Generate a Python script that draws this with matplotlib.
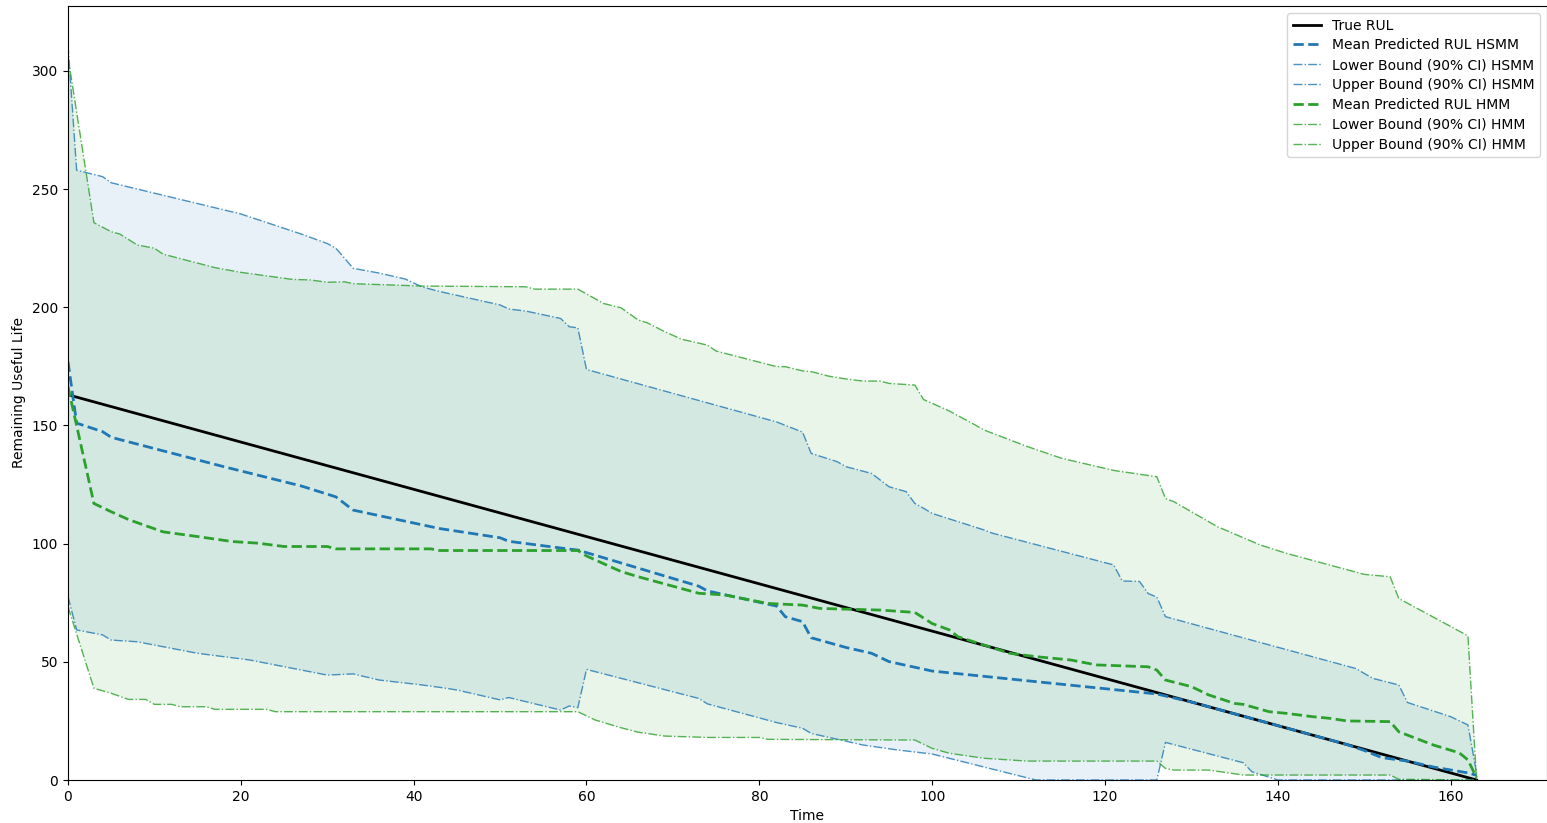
import matplotlib
matplotlib.use('Agg')
import matplotlib.pyplot as plt
import numpy as np

blue = '#1f77b4'
green = '#2ca02c'

# true remaining useful life
t_true = [0, 163]
rul_true = [163, 0]

# HSMM mean / bounds (breakpoints)
t_hsmm_mean = [0, 1, 4, 5, 18, 27, 31, 33, 43, 50, 51, 58, 59, 73, 74, 82, 83, 85, 86, 90, 93, 95, 100,
               126, 130, 135, 140, 145, 148, 150, 152, 155, 158, 162, 163]
hsmm_mean = [177, 151, 147.4, 145, 132.6, 124.4, 119.8, 114.2, 106.4, 102.5, 101, 97.7, 97.3, 82, 80, 73.6,
             69.1, 67, 60.2, 56.1, 53.6, 50.1, 46.1, 36.4, 33, 28, 23, 18, 15, 12.5, 9.5, 8, 5.5, 3, 2]

t_hsmm_up = [0, 1, 4, 5, 20, 27, 30, 31, 33, 36, 39, 41, 43, 50, 51, 53, 57, 58, 59, 60, 82, 85, 86, 89, 90,
             93, 95, 97, 98, 99, 100, 106, 107, 121, 122, 124, 125, 126, 127, 149, 151, 154, 155, 160, 162, 163]
hsmm_up = [311, 258, 255.3, 252.7, 239.5, 231, 227, 225, 216.5, 214.5, 212, 208.6, 206.7, 201, 199.3, 198.4,
           195.3, 191.8, 191.3, 173.7, 151.5, 147.2, 138.2, 134.7, 132.6, 129.7, 124.1, 122, 117, 115, 112.8,
           105.8, 104.4, 91, 84.2, 84, 78.9, 77.4, 69.1, 47.2, 43, 40.2, 32.8, 26.8, 23.3, 3]

t_hsmm_lo = [0, 1, 4, 5, 8, 15, 21, 30, 33, 36, 41, 43, 45, 50, 51, 57, 58, 59, 60, 73, 74, 82, 85, 86, 92,
             96, 100, 112, 126, 127, 136, 137, 140, 163]
hsmm_lo = [77.6, 63.5, 61.4, 59.2, 58.5, 53.6, 50.8, 44.4, 44.9, 42.3, 40.2, 39.2, 38.1, 33.9, 34.9, 29.6,
           31.3, 30.6, 46.8, 34.5, 32.2, 24.3, 21.9, 19.7, 14.8, 12.7, 11, 0, 0, 15.9, 7.3, 3.5, 0, 0]

# HMM mean / bounds
t_hmm_mean = [0, 3, 5, 7, 11, 15, 19, 22, 25, 30, 31, 42, 43, 59, 60, 64, 66, 73, 76, 81, 85, 87, 94, 98,
              100, 102, 103, 109, 112, 116, 119, 125, 126, 127, 130, 132, 135, 136, 139, 141, 144, 146, 148,
              153, 154, 157, 158, 161, 162, 163]
hmm_mean = [166.4, 117, 113.5, 110.2, 105, 103, 100.9, 100.2, 98.8, 98.8, 97.8, 97.8, 97.1, 97.1, 94.8,
            88.2, 86, 79, 78.3, 74.7, 74, 72.6, 71.9, 70.9, 66.2, 63.5, 60.6, 53.6, 52.2, 50.8, 48.7, 47.9,
            46.5, 42.3, 39.5, 36, 32.4, 32, 28.9, 28.2, 26.8, 26.1, 25, 24.7, 20.4, 16.2, 14.8, 11.5, 8.5, 1]

t_hmm_up = [0, 3, 5, 6, 8, 10, 11, 17, 20, 26, 28, 30, 32, 33, 41, 53, 54, 59, 62, 64, 66, 67, 69, 71, 74,
            75, 82, 83, 85, 86, 88, 90, 92, 94, 95, 98, 99, 102, 105, 106, 109, 111, 115, 121, 126, 127, 128,
            133, 138, 141, 150, 153, 154, 162, 163]
hmm_up = [306, 235.8, 232, 231, 226.4, 225, 222.5, 216.8, 214.8, 211.8, 211.6, 210.6, 210.8, 210, 209,
          208.7, 207.7, 207.7, 201.6, 199.8, 194.6, 193.5, 189.8, 186.5, 184, 181.5, 174.9, 174.9, 173.1,
          172.8, 170.9, 169.7, 168.8, 168.8, 167.8, 167.1, 161, 156.1, 150.2, 148.1, 143.9, 141.1, 136.1,
          131, 128.3, 119.1, 117.7, 107.2, 99.4, 95.9, 87, 86, 76.8, 61, 0]

t_hmm_lo = [0, 3, 5, 7, 9, 10, 12, 13, 16, 17, 23, 24, 59, 61, 64, 66, 67, 69, 74, 80, 81, 98, 100, 102,
            106, 111, 126, 127, 128, 132, 136, 153, 154, 163]
hmm_lo = [73.3, 38.8, 36.7, 34.1, 34.1, 32, 32, 31, 31, 29.9, 29.9, 28.9, 28.9, 25.4, 22.1, 20.2, 19.7,
          18.6, 18, 18, 17.2, 16.9, 13.4, 11.3, 9.2, 8, 8, 4.9, 4.2, 4.2, 2.1, 2.1, 0.3, 0]


def band(ax, t_lo, lo, t_up, up, color):
  xs = np.concatenate([t_lo, t_up[::-1]])
  ys = np.concatenate([lo, up[::-1]])
  ax.fill(xs, ys, color=color, alpha=0.1, linewidth=0)


fig = plt.figure(figsize=(15.47, 8.23), dpi=100)
ax = fig.add_axes([68 / 1547, 43 / 823, 1 - 68 / 1547, (780 - 6) / 823])

ax.plot(t_true, rul_true, color='black', lw=2, label='True RUL')
ax.plot(t_hsmm_mean, hsmm_mean, color=blue, ls='--', lw=2, label='Mean Predicted RUL HSMM')
ax.plot(t_hsmm_lo, hsmm_lo, color=blue, ls='-.', lw=1, alpha=0.8, label='Lower Bound (90% CI) HSMM')
ax.plot(t_hsmm_up, hsmm_up, color=blue, ls='-.', lw=1, alpha=0.8, label='Upper Bound (90% CI) HSMM')
band(ax, t_hsmm_lo, hsmm_lo, t_hsmm_up, hsmm_up, blue)

ax.plot(t_hmm_mean, hmm_mean, color=green, ls='--', lw=2, label='Mean Predicted RUL HMM')
ax.plot(t_hmm_lo, hmm_lo, color=green, ls='-.', lw=1, alpha=0.8, label='Lower Bound (90% CI) HMM')
ax.plot(t_hmm_up, hmm_up, color=green, ls='-.', lw=1, alpha=0.8, label='Upper Bound (90% CI) HMM')
band(ax, t_hmm_lo, hmm_lo, t_hmm_up, hmm_up, green)

ax.set_xlim(0, 171.15)
ax.set_ylim(0, 327.5)
ax.set_xticks(range(0, 161, 20))
ax.set_yticks(range(0, 301, 50))
ax.set_xlabel('Time')
ax.set_ylabel('Remaining Useful Life')
ax.legend(loc='upper right', labelspacing=0.42)

fig.savefig('out.png', dpi=100)
